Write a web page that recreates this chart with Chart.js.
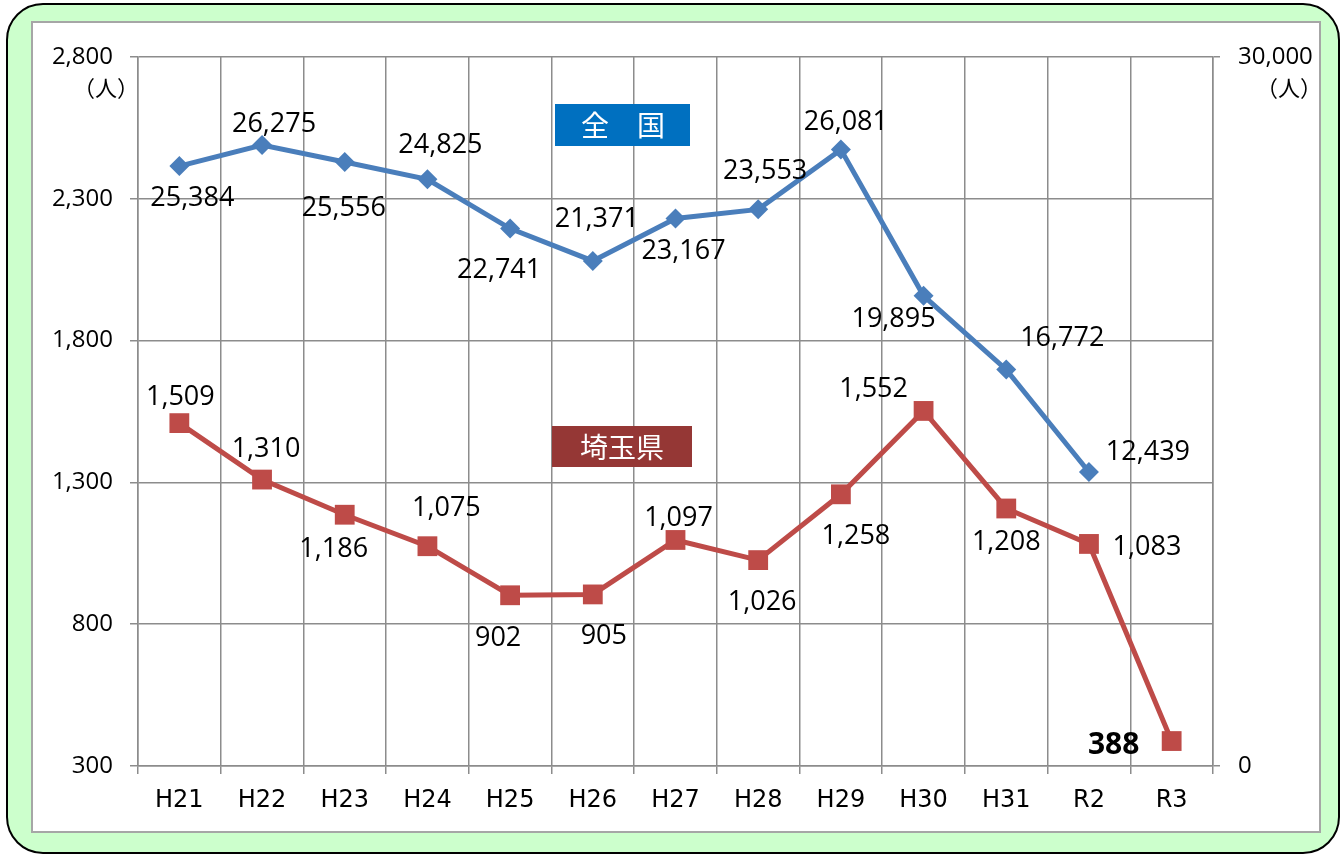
<!DOCTYPE html>
<html>
<head>
<meta charset="utf-8">
<script src="https://cdn.jsdelivr.net/npm/chart.js@4/dist/chart.umd.min.js"></script>
<style>
  body { margin: 0; background: #fff; }
  canvas { display: block; }
</style>
</head>
<body>
<canvas id="lineChart" width="1341" height="855"></canvas>
<script>
// data
const years = ['H21', 'H22', 'H23', 'H24', 'H25', 'H26', 'H27', 'H28', 'H29', 'H30', 'H31', 'R2', 'R3'];
const zenkoku = [25384, 26275, 25556, 24825, 22741, 21371, 23167, 23553, 26081, 19895, 16772, 12439, null];
const saitama = [1509, 1310, 1186, 1075, 902, 905, 1097, 1026, 1258, 1552, 1208, 1083, 388];

// where each data label sits relative to its point (dx, dy)
const zenkokuLabelPos = [[13, 32], [12, -21], [-1, 46], [13, -34], [-11, 42], [4, -42], [8, 33], [7, -38], [5, -27], [-30, 23], [56, -31], [59, -20], null];
const saitamaLabelPos = [[1, -26], [4, -30], [-11, 35], [19, -38], [-12, 43], [11, 42], [3, -22], [4, 42], [15, 42], [-50, -22], [0, 34], [58, 3], [-58, 4]];

const gridColor = '#8c8c8c';
const numFont = '"Open Sans", "Noto Sans", sans-serif';
const jpFont = '"Noto Sans CJK JP", sans-serif';

function fmt(v) {
    return Number(v).toLocaleString('en-US');
}

// background panels
const framePlugin = {
    id: 'frame',
    beforeDraw(chart) {
        const ctx = chart.ctx;
        ctx.save();
        ctx.fillStyle = '#ccffcc';
        ctx.strokeStyle = '#000';
        ctx.lineWidth = 2;
        ctx.beginPath();
        ctx.roundRect(7, 4, 1332, 849, 36);
        ctx.fill();
        ctx.stroke();
        ctx.fillStyle = '#fff';
        ctx.fillRect(32, 22, 1288, 810);
        ctx.strokeStyle = '#a6a6a6';
        ctx.lineWidth = 2;
        ctx.strokeRect(32, 22, 1288, 810);
        ctx.restore();
    }
};

// data labels, unit labels and series name boxes
const labelPlugin = {
    id: 'labels',
    afterDatasetsDraw(chart) {
        const ctx = chart.ctx;
        const area = chart.chartArea;
        ctx.save();
        ctx.textAlign = 'center';
        ctx.textBaseline = 'middle';
        ctx.fillStyle = '#000';

        const sets = [[0, zenkoku, zenkokuLabelPos], [1, saitama, saitamaLabelPos]];
        sets.forEach(([idx, vals, pos]) => {
            const meta = chart.getDatasetMeta(idx);
            meta.data.forEach((pt, i) => {
                if (vals[i] === null || !pos[i]) return;
                const last = idx === 1 && i === vals.length - 1;
                ctx.font = (last ? 'bold 30px ' : '27px ') + numFont;
                ctx.fillText(fmt(vals[i]), pt.x + pos[i][0], pt.y + pos[i][1]);
            });
        });

        // unit labels
        ctx.font = '22px ' + jpFont;
        ctx.fillText('（人）', 106, 88);
        ctx.fillText('（人）', 1289, 88);

        // series name boxes
        ctx.fillStyle = '#0070c0';
        ctx.fillRect(area.left + 417, 104, 135, 42);
        ctx.fillStyle = '#953735';
        ctx.fillRect(area.left + 414, 426, 140, 41);
        ctx.fillStyle = '#fff';
        ctx.font = '28px ' + jpFont;
        ctx.fillText('全　国', area.left + 485, 125);
        ctx.fillText('埼玉県', area.left + 484, 447);
        ctx.restore();
    }
};

var ctxLine = document.getElementById('lineChart').getContext('2d');
var lineChart = new Chart(ctxLine, {
    type: 'line',
    data: {
        labels: years,
        datasets: [
            {
                label: '全国',
                data: zenkoku,
                yAxisID: 'yR',
                borderColor: '#4a7ebb',
                backgroundColor: '#4a7ebb',
                borderWidth: 5,
                pointStyle: 'rectRot',
                pointRadius: 10,
                pointBorderWidth: 0,
                tension: 0,
                spanGaps: false
            },
            {
                label: '埼玉県',
                data: saitama,
                yAxisID: 'yL',
                borderColor: '#be4b48',
                backgroundColor: '#be4b48',
                borderWidth: 5,
                pointStyle: 'rect',
                pointRadius: 14,
                pointBorderWidth: 0,
                tension: 0
            }
        ]
    },
    options: {
        responsive: false,
        animation: false,
        devicePixelRatio: 1,
        layout: { padding: { top: 57, left: 0, right: 0, bottom: 0 } },
        plugins: {
            legend: { display: false },
            tooltip: { enabled: false }
        },
        scales: {
            x: {
                offset: true,
                grid: { offset: true, color: gridColor, lineWidth: 1.5, tickLength: 8 },
                border: { color: gridColor, width: 1.5 },
                ticks: { color: '#000', padding: 12, font: { family: '"DejaVu Sans", sans-serif', size: 24 } },
                afterFit(scale) { scale.height = 89; }
            },
            yL: {
                position: 'left',
                min: 300,
                max: 2800,
                ticks: {
                    stepSize: 500,
                    color: '#000',
                    padding: 17,
                    font: { family: numFont, size: 24 },
                    callback: v => fmt(v)
                },
                grid: { color: gridColor, lineWidth: 1.5, tickLength: 8 },
                border: { color: gridColor, width: 1.5 },
                afterFit(scale) { scale.width = 138; }
            },
            yR: {
                position: 'right',
                min: 0,
                max: 30000,
                ticks: {
                    stepSize: 30000,
                    color: '#000',
                    padding: 18,
                    font: { family: numFont, size: 24 },
                    callback: v => fmt(v)
                },
                grid: { drawOnChartArea: false, color: gridColor, lineWidth: 1.5, tickLength: 7 },
                border: { color: gridColor, width: 1.5 },
                afterFit(scale) { scale.width = 128; }
            }
        }
    },
    plugins: [framePlugin, labelPlugin]
});
</script>
</body>
</html>
